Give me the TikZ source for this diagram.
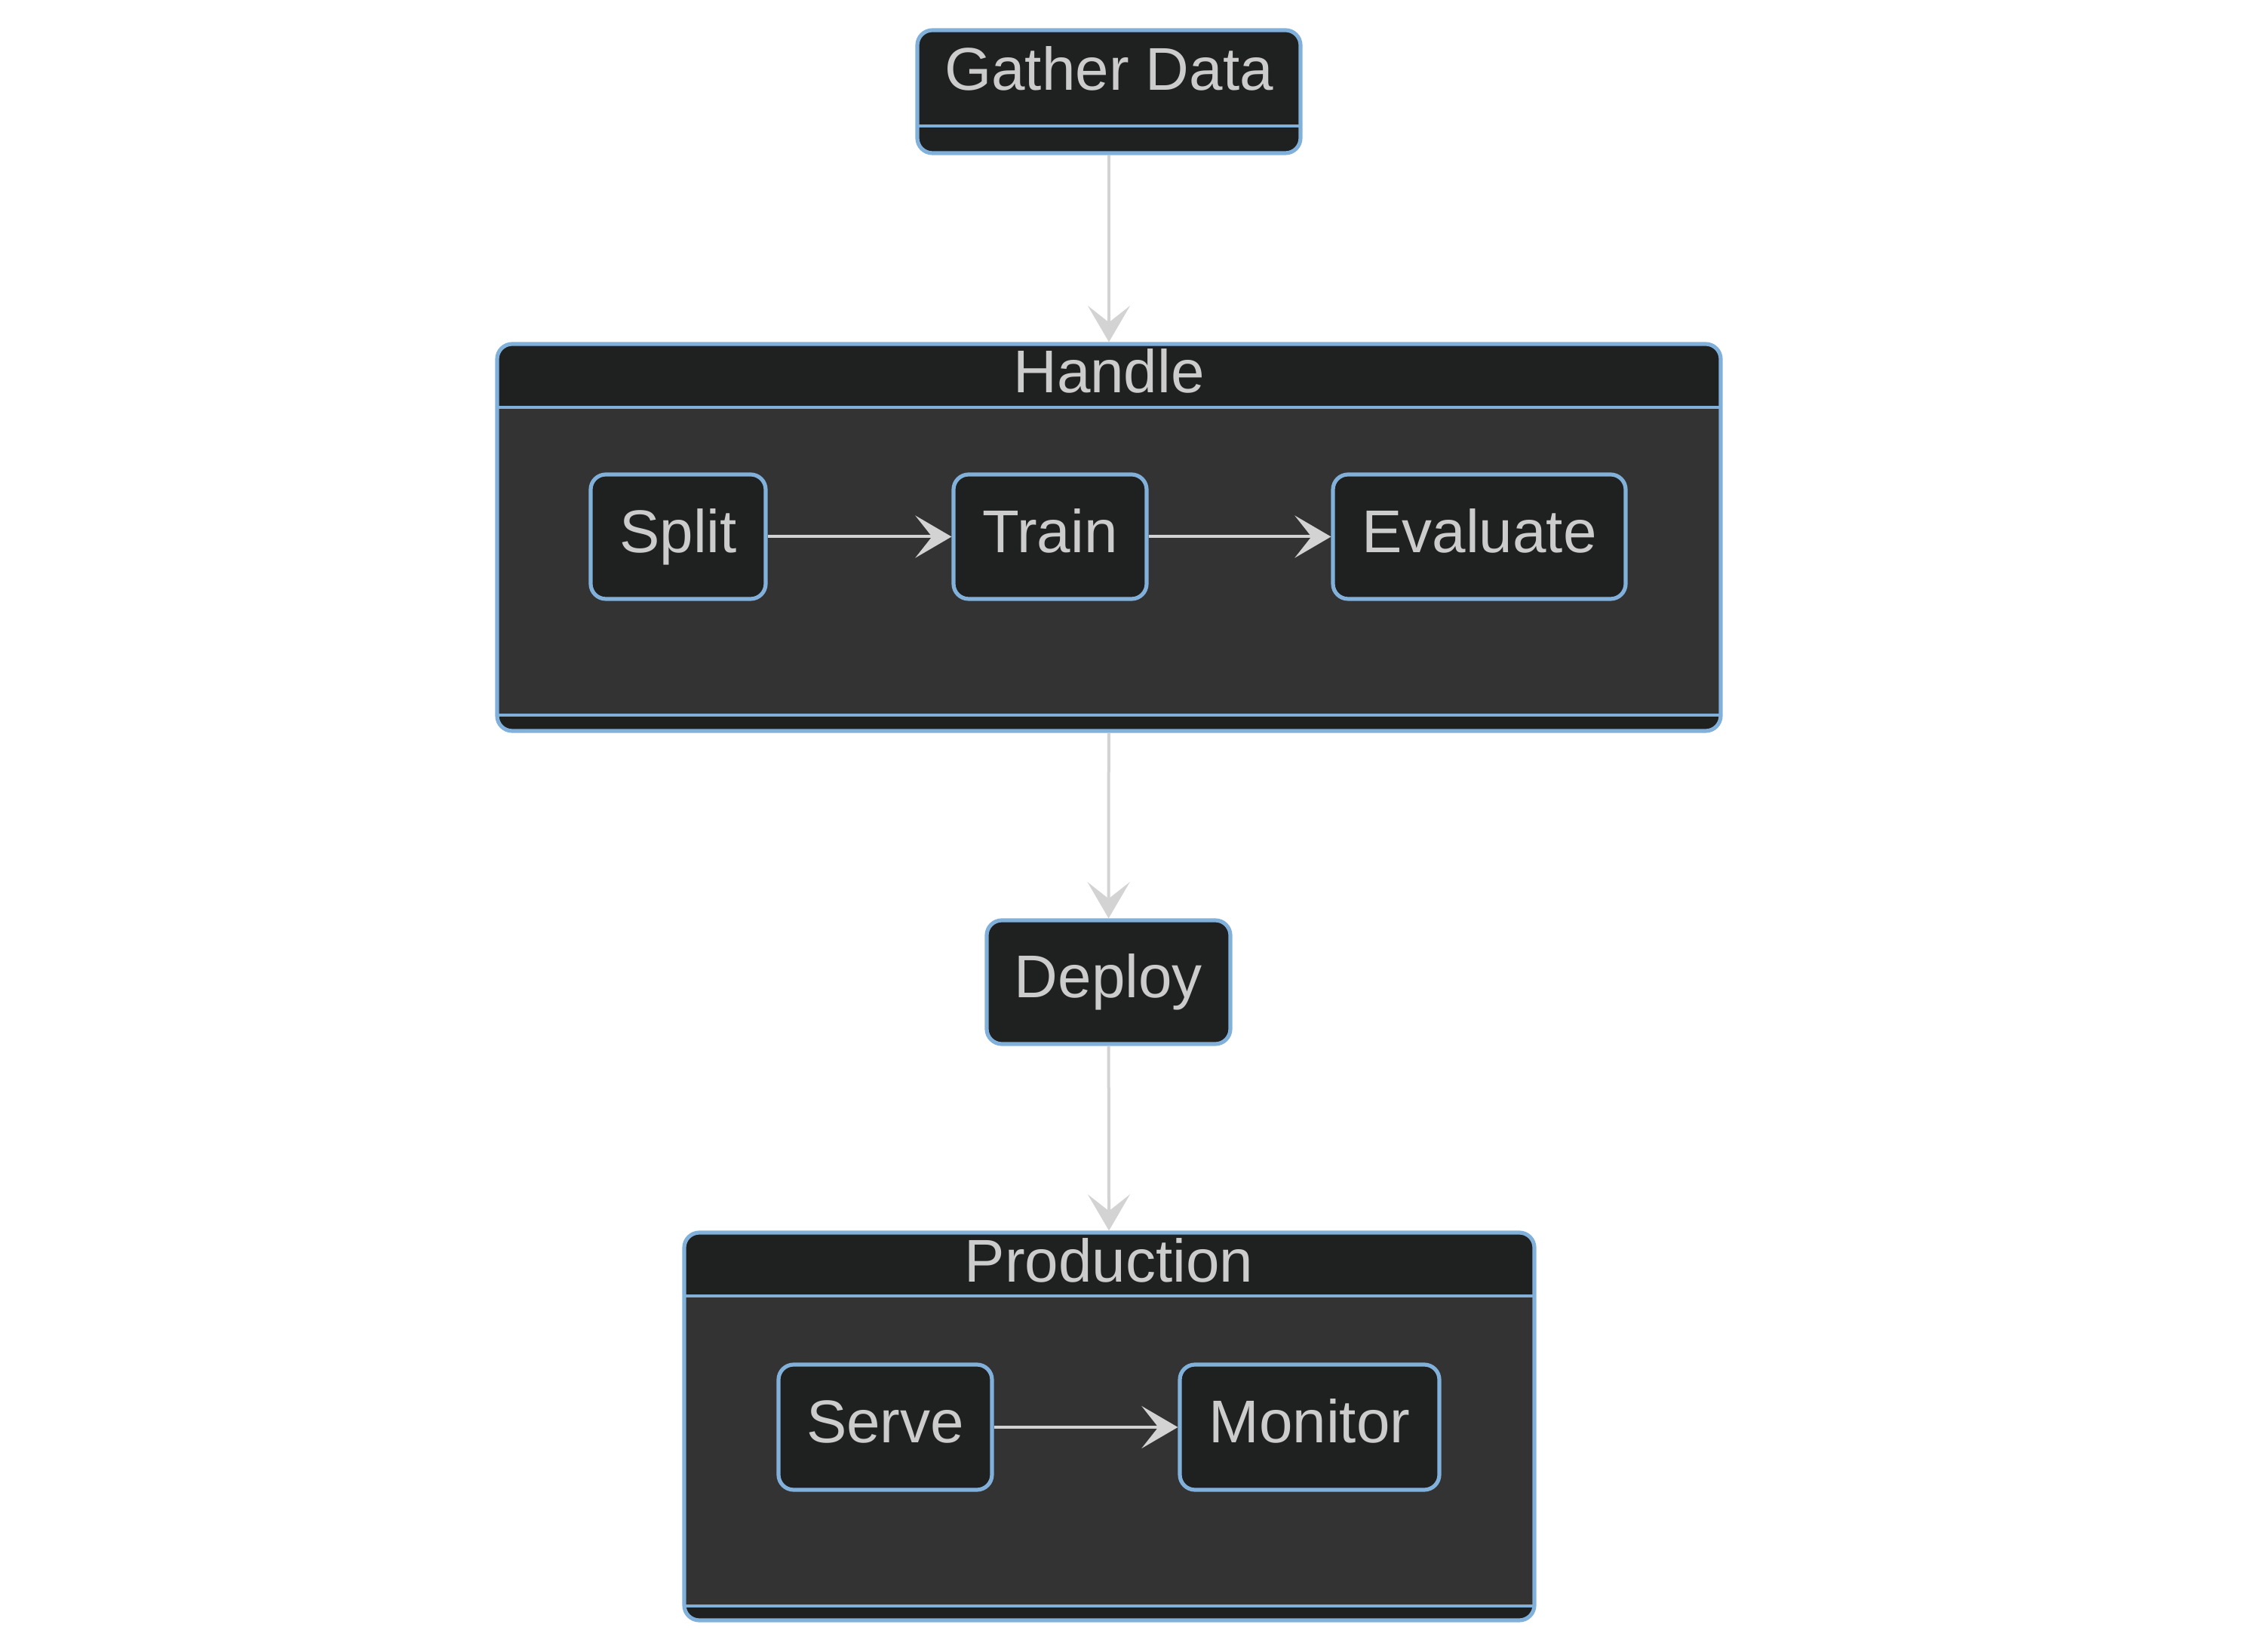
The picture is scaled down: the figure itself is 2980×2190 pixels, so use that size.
\documentclass[tikz,border=0pt]{standalone}
\usepackage{fontspec}
\setmainfont{Liberation Sans}
\usetikzlibrary{arrows.meta}
\definecolor{nodebg}{HTML}{1F2020}
\definecolor{clusterbg}{HTML}{333333}
\definecolor{bordercol}{HTML}{81B1DB}
\definecolor{txt}{HTML}{CCCCCC}
\definecolor{edgecol}{HTML}{D3D3D3}
\tikzset{
  statebox/.style={draw=bordercol, fill=nodebg, line width=1.3pt, rounded corners=5pt,
    text=txt, font=\fontsize{20pt}{24pt}\selectfont, text height=14.4pt, text depth=4pt, inner sep=0pt},
  lbl/.style={text=txt, font=\fontsize{20pt}{24pt}\selectfont, text height=14.4pt, text depth=4pt, inner sep=0pt},
  conn/.style={draw=edgecol, line width=1pt, -{Stealth[length=12pt,width=14pt,inset=5.5pt]}},
  divider/.style={draw=bordercol, line width=1.2pt}
}
\begin{document}
\begin{tikzpicture}[x=0.25pt, y=-0.25pt]
\useasboundingbox[fill=white] (0,0) rectangle (2980,2190);

% Gather Data
\node[statebox, minimum width=127pt, minimum height=40.75pt] (gather) at (1470,121.5) {};
\draw[divider] (1216,167) -- (1724,167);
\node[lbl] (gathertxt) at (1470,99) {Gather Data};

% Handle cluster
\node[statebox, minimum width=405.5pt, minimum height=128.25pt] (handle) at (1470,712.5) {};
\fill[clusterbg] (662,540) rectangle (2278,948);
\draw[divider] (659,540) -- (2281,540);
\draw[divider] (659,948) -- (2281,948);
\node[lbl] (handletxt) at (1470,500) {Handle};

\node[statebox, minimum width=58pt, minimum height=41.25pt] (split) at (899,711.5) {Split};
\node[statebox, minimum width=64pt, minimum height=41.25pt] (train) at (1392,711.5) {Train};
\node[statebox, minimum width=97pt, minimum height=41.25pt] (evaluate) at (1961,711.5) {Evaluate};

% Deploy
\node[statebox, minimum width=80.75pt, minimum height=41pt] (deploy) at (1469.5,1302) {Deploy};

% Production cluster
\node[statebox, minimum width=281.75pt, minimum height=128.5pt] (production) at (1470.5,1891) {};
\fill[clusterbg] (910,1718) rectangle (2031,2129);
\draw[divider] (907,1718) -- (2034,1718);
\draw[divider] (907,2129) -- (2034,2129);
\node[lbl] (prodtxt) at (1470,1679) {Production};

\node[statebox, minimum width=70.75pt, minimum height=41.5pt] (serve) at (1173.5,1892) {Serve};
\node[statebox, minimum width=86pt, minimum height=41.5pt] (monitor) at (1736,1892) {Monitor};

% Connectors
\draw[conn] (gather) -- (handle);
\draw[conn] (handle) -- (deploy);
\draw[conn] (deploy) -- (production);
\draw[conn] (split) -- (train);
\draw[conn] (train) -- (evaluate);
\draw[conn] (serve) -- (monitor);
\end{tikzpicture}
\end{document}
